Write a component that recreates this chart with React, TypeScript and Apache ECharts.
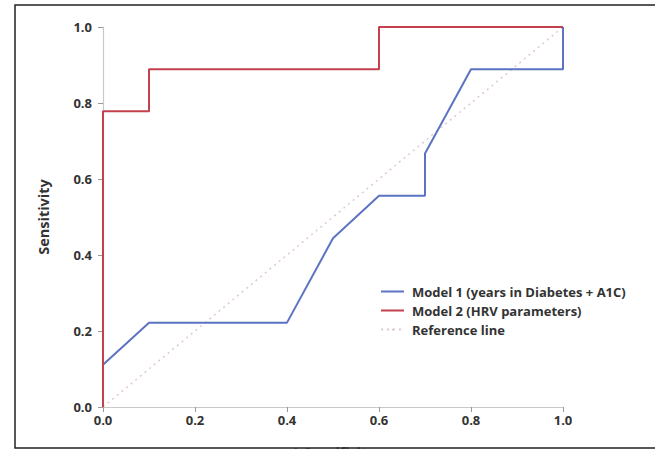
import React, { useEffect, useRef } from "react";
import * as echarts from "echarts";

const model1X = [0, 0, 0.1, 0.4, 0.5, 0.6, 0.7, 0.7, 0.8, 1.0, 1.0];
const model1Y = [0, 0.111, 0.222, 0.222, 0.444, 0.556, 0.556, 0.667, 0.889, 0.889, 1.0];
const model2X = [0, 0, 0.1, 0.1, 0.6, 0.6, 1.0];
const model2Y = [0, 0.778, 0.778, 0.889, 0.889, 1.0, 1.0];
const refX = [0, 1];
const refY = [0, 1];
const seriesNames = ["Model 1 (years in Diabetes + A1C)", "Model 2 (HRV parameters)", "Reference line"];

const zip = (xs: number[], ys: number[]) => xs.map((x, i) => [x, ys[i]]);

export default function App() {
  const ref = useRef<HTMLDivElement>(null);
  useEffect(() => {
    document.body.style.margin = "0";
    const chart = echarts.init(ref.current!, null, { renderer: "svg" });
    const font = "'Open Sans', 'Liberation Sans', sans-serif";
    chart.setOption({
      animation: false,
      textStyle: { fontFamily: font },
      grid: { left: 103, right: 92, top: 27, bottom: 42, containLabel: false, outerBoundsMode: "none" },
      graphic: [
        {
          type: "rect",
          shape: { x: 15, y: 5, width: 700, height: 443 },
          style: { fill: "none", stroke: "#222", lineWidth: 1.5 },
          silent: true,
        },
      ],
      legend: {
        orient: "vertical",
        left: 375,
        top: 280,
        itemWidth: 23,
        itemHeight: 2,
        itemGap: 6,
        textStyle: { fontFamily: font, fontSize: 13, fontWeight: 700, color: "#333", padding: [0, 0, 0, 3] },
        data: seriesNames.map((n) => ({ name: n, icon: n === "Reference line" ? undefined : "rect" })),
      },
      xAxis: {
        type: "value",
        min: 0,
        max: 1,
        interval: 0.2,
        name: "1-Specificity",
        nameLocation: "middle",
        nameGap: 38,
        nameTextStyle: { fontSize: 14, fontWeight: 700, color: "#333", verticalAlign: "top" },
        axisLine: { show: true, lineStyle: { color: "#c8c8c8", width: 1.2 } },
        axisTick: { show: true, length: 5, lineStyle: { color: "#999" } },
        axisLabel: { fontSize: 13, fontWeight: 700, color: "#333", margin: 6, formatter: (v: number) => v.toFixed(1) },
        splitLine: { show: false },
      },
      yAxis: {
        type: "value",
        min: 0,
        max: 1,
        interval: 0.2,
        name: "Sensitivity",
        nameLocation: "middle",
        nameGap: 52,
        nameTextStyle: { fontSize: 14.5, fontWeight: 700, color: "#333" },
        axisLine: { show: true, lineStyle: { color: "#c8c8c8", width: 1.2 } },
        axisTick: { show: true, length: 5, lineStyle: { color: "#999" } },
        axisLabel: { fontSize: 13, fontWeight: 700, color: "#333", margin: 11, formatter: (v: number) => v.toFixed(1) },
        splitLine: { show: false },
      },
      series: [
        {
          name: seriesNames[2],
          type: "line",
          data: zip(refX, refY),
          symbol: "none",
          lineStyle: { color: "#e0c8cc", width: 1.5, type: [2, 4] },
          itemStyle: { color: "#e0c8cc" },
          z: 1,
        },
        {
          name: seriesNames[0],
          type: "line",
          data: zip(model1X, model1Y),
          symbol: "none",
          lineStyle: { color: "#5b73c2", width: 2 },
          itemStyle: { color: "#5b73c2" },
          z: 2,
        },
        {
          name: seriesNames[1],
          type: "line",
          data: zip(model2X, model2Y),
          symbol: "none",
          lineStyle: { color: "#c2414c", width: 2 },
          itemStyle: { color: "#c2414c" },
          z: 3,
        },
      ],
    });
    return () => chart.dispose();
  }, []);
  return <div ref={ref} style={{ width: 655, height: 449 }} />;
}
